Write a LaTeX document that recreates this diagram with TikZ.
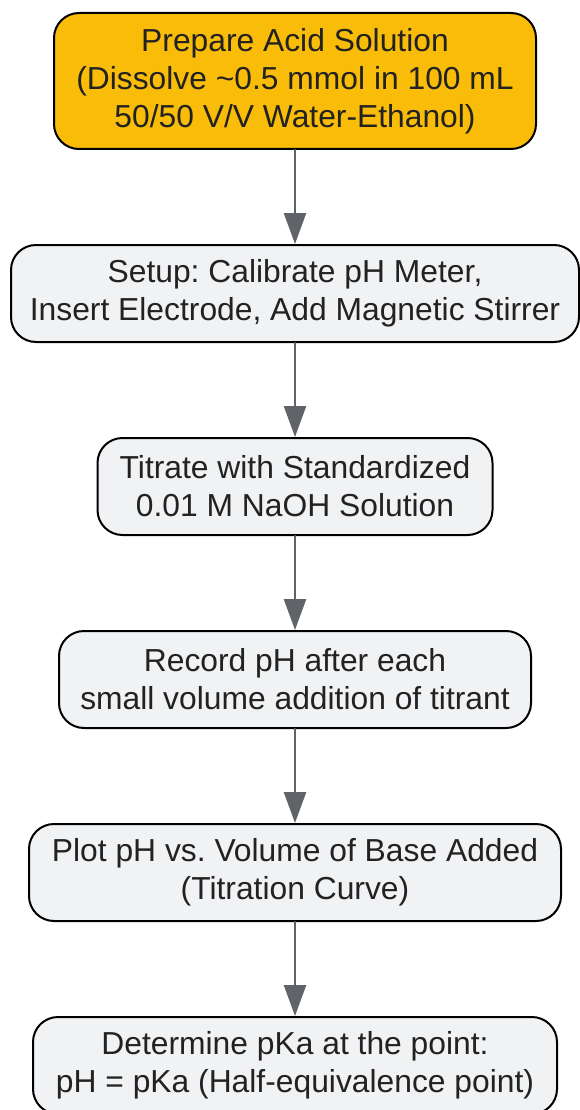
\documentclass[tikz,border=0pt]{standalone}
\usepackage{fontspec}
\setmainfont{Liberation Sans}
\usepackage{xcolor}
\usetikzlibrary{positioning,arrows.meta}

\definecolor{stepgold}{HTML}{F9BC08}
\definecolor{boxgray}{HTML}{F1F2F4}
\definecolor{flowgray}{HTML}{606368}
\definecolor{inkgray}{HTML}{222222}

\begin{document}
\begin{tikzpicture}[x=1pt,y=1pt, font=\fontsize{31.8}{38}\selectfont\frenchspacing, line cap=round, line join=round]
	% ===== khung ảnh =====
	\useasboundingbox (0,0) rectangle (579,-1110);
	
	% ===== style hộp và mũi tên =====
	\tikzset{stepbox/.style={draw=black, line width=2pt, rounded corners=25pt, align=center, text=inkgray, fill=boxgray, minimum height=97pt, inner sep=0pt, execute at begin node={\rule{0pt}{36pt}}},
		flow/.style={draw=flowgray, line width=2.5pt, -{Triangle[length=31pt,width=22pt]}}}
	
	% ===== các bước =====
	\node[stepbox, fill=stepgold, minimum width=482pt, minimum height=136pt] (prep) at (295,-81) {Prepare Acid Solution\\(Dissolve \textasciitilde0.5 mmol in 100 mL\\50/50 V/V Water-Ethanol)};
	\node[stepbox, minimum width=568pt, below=94pt of prep] (setup) {Setup: Calibrate pH Meter,\\Insert Electrode, Add Magnetic Stirrer};
	\node[stepbox, minimum width=395pt, below=94pt of setup] (titrate) {Titrate with Standardized\\0.01 M NaOH Solution};
	\node[stepbox, minimum width=472pt, below=94pt of titrate] (record) {Record pH after each\\small volume addition of titrant};
	\node[stepbox, minimum width=532pt, below=94pt of record] (plot) {Plot pH vs. Volume of Base Added\\(Titration Curve)};
	\node[stepbox, minimum width=524pt, below=94pt of plot] (pka) {Determine pKa at the point:\\pH = pKa (Half-equivalence point)};
	
	% ===== mũi tên =====
	\foreach \a/\b in {prep/setup, setup/titrate, titrate/record, record/plot, plot/pka}{
		\draw[flow] (\a) -- (\b);
	}
\end{tikzpicture}
\end{document}
